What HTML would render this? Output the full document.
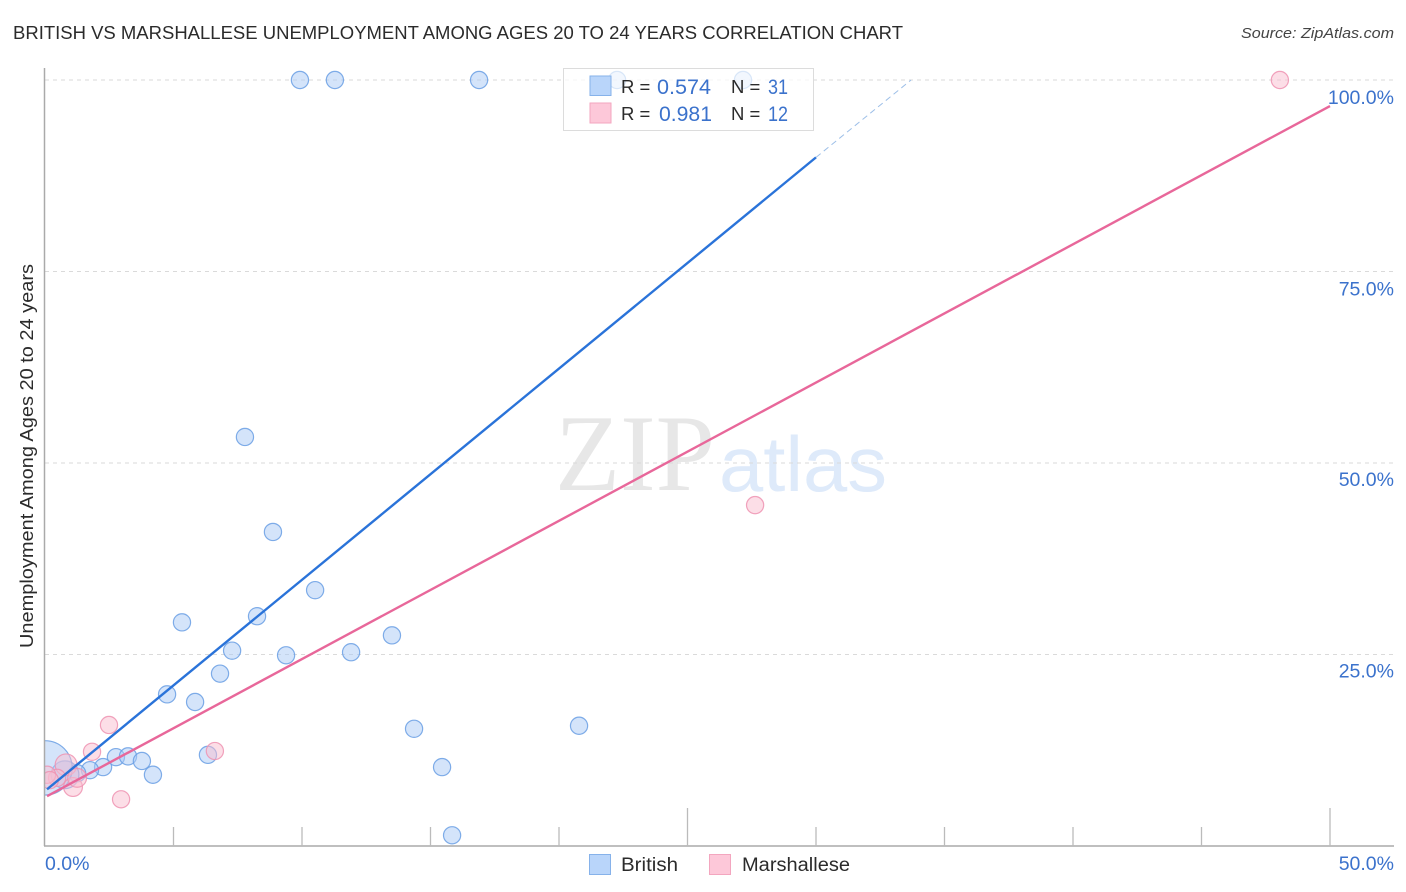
<!DOCTYPE html>
<html>
<head>
<meta charset="utf-8">
<title>British vs Marshallese Correlation Chart</title>
<style>
html,body{margin:0;padding:0;background:#fff;width:1406px;height:892px;overflow:hidden}
svg{display:block;font-family:"Liberation Sans",sans-serif}
</style>
</head>
<body>
<svg id="chart" width="1406" height="892" viewBox="0 0 1406 892">
<text x="13" y="39" font-size="18.5" fill="#2b2b2b" textLength="890" lengthAdjust="spacingAndGlyphs">BRITISH VS MARSHALLESE UNEMPLOYMENT AMONG AGES 20 TO 24 YEARS CORRELATION CHART</text>
<text x="1241" y="38" font-size="15" font-style="italic" fill="#444" textLength="153" lengthAdjust="spacingAndGlyphs">Source: ZipAtlas.com</text>
<g id="watermark">
<text x="555" y="490" font-size="109" fill="#e7e7e7" textLength="160" lengthAdjust="spacingAndGlyphs" style="font-family:'Liberation Serif',serif">ZIP</text>
<text x="719" y="491" font-size="78" fill="#deeafa" textLength="168" lengthAdjust="spacingAndGlyphs">atlas</text>
</g>
<g id="grid"></g>
<g id="points"></g>
<rect x="0" y="60" width="44.5" height="786" fill="#fff"/>
<g id="axes"></g>
<g id="trends"></g>
<text transform="translate(33,456) rotate(-90)" text-anchor="middle" font-size="18" fill="#2b2b2b" textLength="384" lengthAdjust="spacingAndGlyphs">Unemployment Among Ages 20 to 24 years</text>
<g id="legend-top">
<rect x="563.5" y="68.5" width="250" height="62" fill="#fff" fill-opacity="0.7" stroke="#dcdcdc"/>
<rect x="590" y="76" width="21" height="19.5" fill="#b9d5fa" stroke="#86b2ea"/>
<rect x="590" y="103" width="21" height="20" fill="#fdc8d9" stroke="#f3a6bf"/>
<text x="621" y="93" font-size="18.5" fill="#2b2b2b">R =</text>
<text x="657" y="94" font-size="21" fill="#3b72cc" textLength="54" lengthAdjust="spacingAndGlyphs">0.574</text>
<text x="731" y="93" font-size="18.5" fill="#2b2b2b">N =</text>
<text x="768" y="94" font-size="21" fill="#3b72cc" textLength="20" lengthAdjust="spacingAndGlyphs">31</text>
<text x="621" y="120" font-size="18.5" fill="#2b2b2b">R =</text>
<text x="659" y="121" font-size="21" fill="#3b72cc" textLength="53" lengthAdjust="spacingAndGlyphs">0.981</text>
<text x="731" y="120" font-size="18.5" fill="#2b2b2b">N =</text>
<text x="768" y="121" font-size="21" fill="#3b72cc" textLength="20" lengthAdjust="spacingAndGlyphs">12</text>
</g>
<g id="legend-bottom">
<rect x="589.5" y="854.5" width="21" height="20" fill="#b9d5fa" stroke="#86b2ea"/>
<text x="621" y="871" font-size="19" fill="#2b2b2b" textLength="57" lengthAdjust="spacingAndGlyphs">British</text>
<rect x="709.5" y="854.5" width="21" height="20" fill="#fdc8d9" stroke="#f3a6bf"/>
<text x="742" y="871" font-size="19" fill="#2b2b2b" textLength="108" lengthAdjust="spacingAndGlyphs">Marshallese</text>
</g>
</svg>
<script>
const britishX = [9.92,11.28,16.89,22.26,27.16,7.78,8.87,10.51,8.25,5.33,13.5,7.28,9.38,11.91,6.81,4.75,5.84,14.36,20.78,6.34,2.76,3.23,3.77,4.2,2.26,1.75,15.45,15.84,1.25,0.78,0];
const britishY = [100,100,100,100,100,53.4,41,33.4,30,29.2,27.5,25.5,24.9,25.3,22.5,19.8,18.8,15.3,15.7,11.9,11.6,11.7,11.1,9.3,10.3,9.9,10.3,1.4,9.5,9.3,10.2];
const britishWeight = [1,1,1,1,1,1,1,1,1,1,1,1,1,1,1,1,1,1,1,1,1,1,1,1,1,1,1,1,1,2.6,10];
const marshalleseX = [48.05,27.63,2.49,1.83,6.61,2.96,1.09,0.82,1.25,0.47,0.08,0.19];
const marshalleseY = [100,44.5,15.8,12.3,12.4,6.1,7.7,10.6,8.9,8.9,9.3,8.6];
const marshalleseWeight = [1,1,1,1,1,1,1.2,1.6,1.2,1,1,1];
const britishTrendX = [0.08,30];
const britishTrendY = [7.4,89.9];
const britishDashX = [30,33.7];
const britishDashY = [89.9,100];
const marshalleseTrendX = [0.08,50];
const marshalleseTrendY = [6.5,96.6];
const yGridValues = [25,50,75,100];
const yTickLabels = ["25.0%","50.0%","75.0%","100.0%"];
const xTickValues = [0,5,10,15,20,25,30,35,40,45,50];
const xMajorTicks = [25,50];
const xEndValues = [0,50];
const xEndLabels = ["0.0%","50.0%"];

const NS = 'http://www.w3.org/2000/svg';
const sx = v => 45 + v * 25.7;
const sy = v => 846 - v * 7.66;
function mk(parent, tag, attrs, text) {
  const el = document.createElementNS(NS, tag);
  for (const k in attrs) el.setAttribute(k, attrs[k]);
  if (text !== undefined) el.textContent = text;
  document.getElementById(parent).appendChild(el);
  return el;
}
yGridValues.forEach((v, i) => {
  const line = mk('grid', 'line', {x1:45, x2:1394, y1:sy(v), y2:sy(v), stroke:'#dadada', 'stroke-width':1, 'stroke-dasharray':'4 4'});
  
  
  const label = mk('axes', 'text', {x:1394, y:sy(v) + (v === 100 ? 24 : v === 75 ? 24 : 23), 'text-anchor':'end', 'font-size':19.5, fill:'#3b72cc'}, yTickLabels[i]);
  
  
});
const yAxis = mk('axes', 'line', {x1:44.5, x2:44.5, y1:68, y2:846, stroke:'#aaa', 'stroke-width':1.5});


const xAxis = mk('axes', 'line', {x1:44, x2:1394, y1:846, y2:846, stroke:'#aaa', 'stroke-width':1.5});


xTickValues.slice(1).forEach(v => {
  const top = xMajorTicks.includes(v) ? 808 : 827;
  const tick = mk('axes', 'line', {x1:sx(v), x2:sx(v), y1:top, y2:846, stroke:'#bbb', 'stroke-width':1.3});
  
  
});
xEndValues.forEach((v, i) => {
  const label = mk('axes', 'text', {x: v === 0 ? 45 : 1394, y:870, 'text-anchor': v === 0 ? 'start' : 'end', 'font-size':19.5, fill:'#3b72cc'}, xEndLabels[i]);
  
  
});
function radius(w) { return 8.6 * Math.sqrt(w); }
britishX.forEach((v, i) => {
  const c = mk('points', 'circle', {cx:sx(v), cy:sy(britishY[i]), r:radius(britishWeight[i]), fill:'#a9c9f5', 'fill-opacity':0.5, stroke:'#6a9fe4', 'stroke-opacity':0.85, 'stroke-width':1.2});
  
  
});
marshalleseX.forEach((v, i) => {
  const c = mk('points', 'circle', {cx:sx(v), cy:sy(marshalleseY[i]), r:radius(marshalleseWeight[i]), fill:'#f9bdd0', 'fill-opacity':0.5, stroke:'#ee93b1', 'stroke-opacity':0.85, 'stroke-width':1.2});
  
  
});
const t1 = mk('trends', 'line', {x1:sx(britishTrendX[0]), y1:sy(britishTrendY[0]), x2:sx(britishTrendX[1]), y2:sy(britishTrendY[1]), stroke:'#2a73d9', 'stroke-width':2.4});


const t2 = mk('trends', 'line', {x1:sx(britishDashX[0]), y1:sy(britishDashY[0]), x2:sx(britishDashX[1]), y2:sy(britishDashY[1]), stroke:'#9dbfe8', 'stroke-width':1, 'stroke-dasharray':'6 4'});


const t3 = mk('trends', 'line', {x1:sx(marshalleseTrendX[0]), y1:sy(marshalleseTrendY[0]), x2:sx(marshalleseTrendX[1]), y2:sy(marshalleseTrendY[1]), stroke:'#e8679a', 'stroke-width':2.4});


</script>
</body>
</html>
